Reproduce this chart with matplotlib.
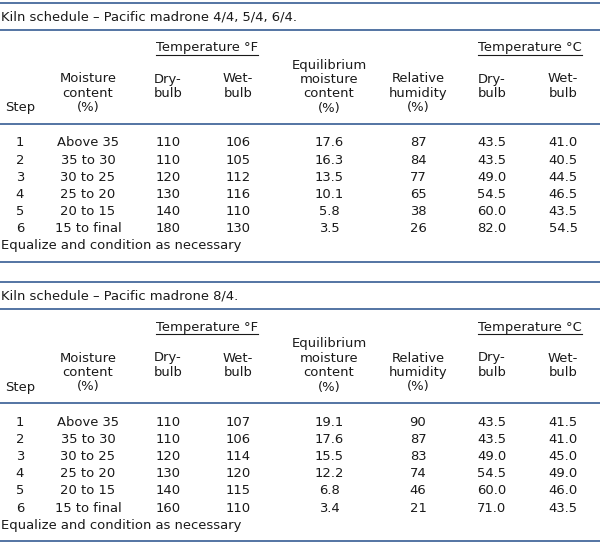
import matplotlib
matplotlib.use("Agg")
import matplotlib.pyplot as plt
from matplotlib.lines import Line2D

W, H = 600, 547

titles = ["Kiln schedule \u2013 Pacific madrone 4/4, 5/4, 6/4.",
          "Kiln schedule \u2013 Pacific madrone 8/4."]
steps = ["1", "2", "3", "4", "5", "6"]
moisture = ["Above 35", "35 to 30", "30 to 25", "25 to 20", "20 to 15", "15 to final"]

# table 1
dry_f_1 = [110, 110, 120, 130, 140, 180]
wet_f_1 = [106, 105, 112, 116, 110, 130]
emc_1 = [17.6, 16.3, 13.5, 10.1, 5.8, 3.5]
rh_1 = [87, 84, 77, 65, 38, 26]
dry_c_1 = [43.5, 43.5, 49.0, 54.5, 60.0, 82.0]
wet_c_1 = [41.0, 40.5, 44.5, 46.5, 43.5, 54.5]

# table 2
dry_f_2 = [110, 110, 120, 130, 140, 160]
wet_f_2 = [107, 106, 114, 120, 115, 110]
emc_2 = [19.1, 17.6, 15.5, 12.2, 6.8, 3.4]
rh_2 = [90, 87, 83, 74, 46, 21]
dry_c_2 = [43.5, 43.5, 49.0, 54.5, 60.0, 71.0]
wet_c_2 = [41.5, 41.0, 45.0, 49.0, 46.0, 43.5]

footer = "Equalize and condition as necessary"

plt.rcParams['font.family'] = ['DejaVu Sans']
fs = 9.45
txt_color = '#1a1a1a'
line_color = '#45699c'

fig = plt.figure(figsize=(W / 100, H / 100), dpi=100)
fig.patch.set_facecolor('white')


def fx(x):
    return x / W


def fy(y):
    return 1 - y / H


def put(x, y, s, ha='center'):
    return fig.text(fx(x), fy(y), s, ha=ha, va='center', fontsize=fs, color=txt_color)


def hline(y):
    fig.add_artist(Line2D([0, 1], [fy(y), fy(y)], transform=fig.transFigure,
                          color=line_color, lw=1.3))


def header_lines(x, y0, lines):
    for i, s in enumerate(lines):
        put(x, y0 + i * 14.4, s)


renderer = fig.canvas.get_renderer()


def underlined(x, y, s):
    t = put(x, y, s)
    bb = t.get_window_extent(renderer)
    uy = y + 6.5
    fig.add_artist(Line2D([bb.x0 / W, bb.x1 / W], [fy(uy), fy(uy)],
                          transform=fig.transFigure, color=txt_color, lw=0.8))


def draw_table(off, title, dry_f, wet_f, emc, rh, dry_c, wet_c):
    hline(off + 3)
    put(1, off + 17, title, ha='left')
    hline(off + 30)
    underlined(207, off + 48, "Temperature \u00b0F")
    underlined(530, off + 48, "Temperature \u00b0C")
    header_lines(329, off + 65, ["Equilibrium", "moisture", "content", "(%)"])
    header_lines(88, off + 79, ["Moisture", "content", "(%)"])
    header_lines(168, off + 79, ["Dry-", "bulb"])
    header_lines(238, off + 79, ["Wet-", "bulb"])
    header_lines(418, off + 79, ["Relative", "humidity", "(%)"])
    header_lines(492, off + 79, ["Dry-", "bulb"])
    header_lines(563, off + 79, ["Wet-", "bulb"])
    put(5, off + 108, "Step", ha='left')
    hline(off + 124)
    for i in range(len(steps)):
        y = off + 143 + i * 17.2
        put(20, y, steps[i])
        put(88, y, moisture[i])
        put(168, y, str(dry_f[i]))
        put(238, y, str(wet_f[i]))
        put(329, y, "%.1f" % emc[i])
        put(418, y, str(rh[i]))
        put(492, y, "%.1f" % dry_c[i])
        put(563, y, "%.1f" % wet_c[i])
    put(1, off + 246, footer, ha='left')
    hline(off + 262)


draw_table(0, titles[0], dry_f_1, wet_f_1, emc_1, rh_1, dry_c_1, wet_c_1)
draw_table(279, titles[1], dry_f_2, wet_f_2, emc_2, rh_2, dry_c_2, wet_c_2)

fig.savefig("out.png", dpi=100, facecolor='white')
